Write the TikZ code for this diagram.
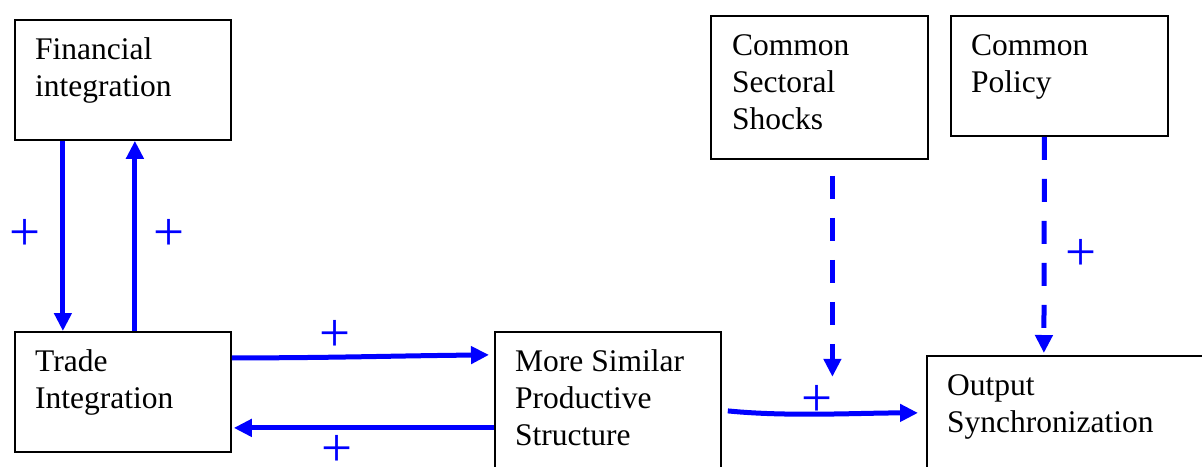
\documentclass[tikz,border=0pt]{standalone}
\usepackage{fontspec}
\setmainfont{Liberation Serif}
\usetikzlibrary{arrows.meta,calc}
\begin{document}
\begin{tikzpicture}[x=1pt,y=-1pt,
  box/.style={draw=black, line width=1.8pt, inner sep=0pt, anchor=north west},
  % base of a multi-line node is the baseline of its last line
  txt/.style={anchor=base west, align=left, inner sep=0pt,
    font=\fontsize{31.5}{37.4}\selectfont},
  plus/.style={text=blue, inner sep=0pt, font=\fontsize{55}{55}\selectfont},
  link/.style={draw=blue, line width=5pt, -{Triangle[length=18pt,width=17pt]}},
  dlink/.style={link, dash pattern=on 23pt off 19pt},
]
\useasboundingbox (0,0) rectangle (1202,466);

% boxes
\node[box, minimum width=216pt, minimum height=120pt] (fin)    at (14,19)  {};
\node[box, minimum width=216pt, minimum height=120pt] (trade)  at (14,331) {};
\node[box, minimum width=226pt, minimum height=150pt] (more)   at (494,331) {};
\node[box, minimum width=217pt, minimum height=143pt] (shocks) at (710,15) {};
\node[box, minimum width=217pt, minimum height=120pt] (policy) at (950,15) {};
\node[box, minimum width=290pt, minimum height=130pt] (out)    at (926,355) {};

% box texts
\node[txt] (fin-t)    at (35,96.4)    {Financial\\integration};
\node[txt] (trade-t)  at (35,408.4)   {Trade\\Integration};
\node[txt] (more-t)   at (515,445.8)  {More Similar\\Productive\\Structure};
\node[txt] (shocks-t) at (732,129.8)  {Common\\Sectoral\\Shocks};
\node[txt] (policy-t) at (971,92.4)   {Common\\Policy};
\node[txt] (out-t)    at (947,432.4)  {Output\\Synchronization};

% solid links
\draw[link] ($(fin.south)+(-60,0)$) -- ($(trade.north)+(-60,0)$);
\draw[link] ($(trade.north)+(12,0)$) -- ($(fin.south)+(12,0)$);
\draw[link] ($(trade.east)+(0,-34)$) .. controls +(100,0) and +(-100,1) .. ($(more.west)+(-5,-52)$);
\draw[link] ($(more.west)+(0,21)$) -- ($(trade.east)+(2,36)$);
\draw[link] ($(more.east)+(6,4)$) .. controls +(60,6) and +(-60,0) .. ($(out.west)+(-8,-8)$);

% dashed links
\draw[dlink] ($(shocks.south)+(13,16)$) -- ($(shocks.south)+(13,217)$);
\draw[dlink] ($(policy.south)+(-15,0)$) -- ($(out.north)+(-28,-2)$);

% signs
\node[plus] (p1) at (25,235) {+};
\node[plus] (p2) at (169,235) {+};
\node[plus] (p3) at (335,336) {+};
\node[plus] (p4) at (337,451) {+};
\node[plus] (p5) at (817,401) {+};
\node[plus] (p6) at (1081,255) {+};
\end{tikzpicture}
\end{document}
